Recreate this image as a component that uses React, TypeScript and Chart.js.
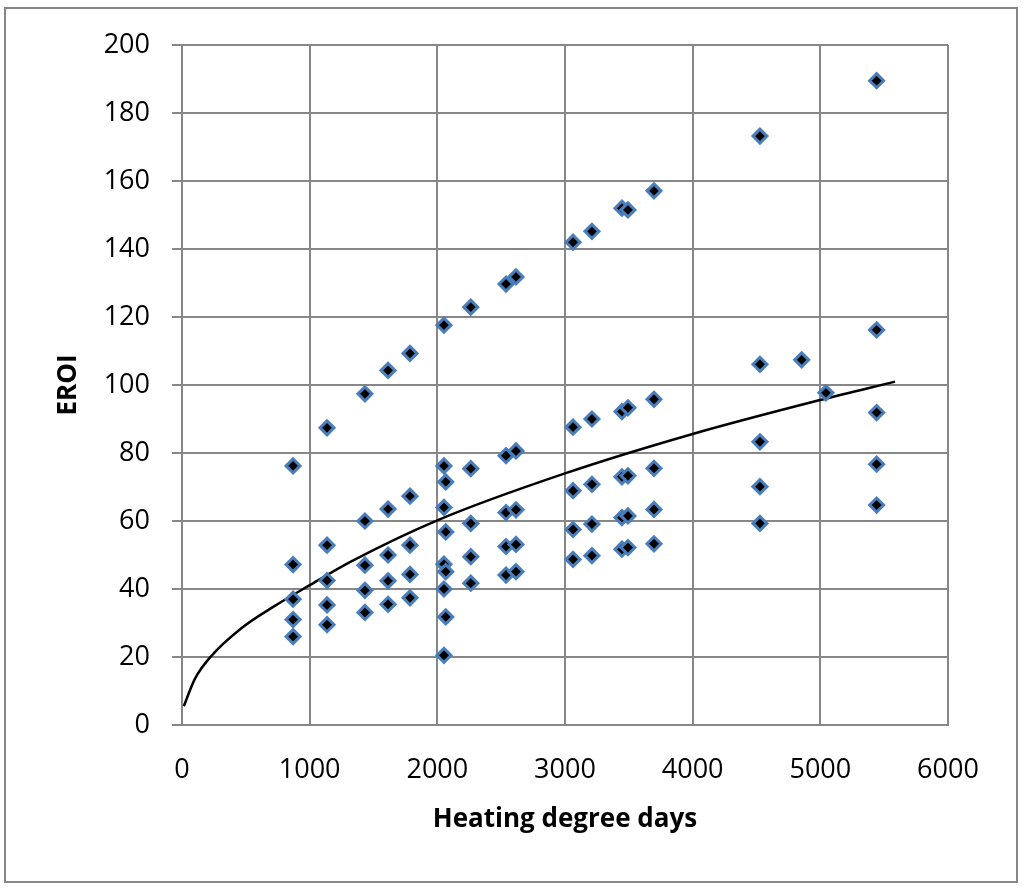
import { useEffect, useRef } from 'react';
import Chart from 'chart.js/auto';

// heating degree days (x) and EROI (y)
const hdd = [
  870, 870, 870, 870, 870,
  1136, 1136, 1136, 1136, 1136,
  1433, 1433, 1433, 1433, 1433,
  1614, 1614, 1614, 1614, 1614,
  1786, 1786, 1786, 1786, 1786,
  2052, 2052, 2066, 2052, 2066, 2052, 2066, 2052, 2066, 2052,
  2262, 2262, 2262, 2262, 2262,
  2538, 2538, 2538, 2538, 2538,
  2616, 2616, 2616, 2616, 2616,
  3063, 3063, 3063, 3063, 3063,
  3211, 3211, 3211, 3211, 3211,
  3446, 3446, 3446, 3446, 3446,
  3493, 3493, 3493, 3493, 3493,
  3697, 3697, 3697, 3697, 3697,
  4527, 4527, 4527, 4527, 4527,
  4854,
  5044,
  5441, 5441, 5441, 5441, 5441,
];
const eroi = [
  76.2, 47.2, 37, 31, 26,
  87.4, 52.9, 42.5, 35.3, 29.5,
  97.4, 60, 47, 39.6, 33.1,
  104.3, 63.5, 50, 42.4, 35.5,
  109.3, 67.3, 52.9, 44.3, 37.4,
  117.6, 76.2, 71.5, 64, 56.8, 47.3, 45.1, 40, 31.8, 20.5,
  122.9, 75.4, 59.3, 49.5, 41.7,
  129.7, 79.2, 62.5, 52.5, 44.1,
  131.8, 80.6, 63.3, 53.1, 45.1,
  142, 87.6, 68.9, 57.5, 48.7,
  145.2, 90, 70.8, 59.1, 49.8,
  152, 92.2, 73, 61, 51.7,
  151.5, 93.3, 73.3, 61.5, 52.2,
  157.1, 95.8, 75.5, 63.4, 53.3,
  173.2, 106.1, 83.3, 70.1, 59.3,
  107.4,
  97.7,
  189.5, 116.2, 91.9, 76.7, 64.7,
];

// trend curve, points
const trendHdd = [14, 100, 230, 470, 730, 990, 1330, 2000, 3000, 4000, 5000, 5585];
const trendEroi = [5.5, 13.5, 20.3, 28.6, 35.1, 40.9, 48.2, 60.2, 74, 85.6, 95.6, 101];

const xTicks = [0, 1000, 2000, 3000, 4000, 5000, 6000];
const yTicks = [0, 20, 40, 60, 80, 100, 120, 140, 160, 180, 200];

const GRID = '#878787';
const FONT = "'Open Sans', sans-serif";

export default function App() {
  const canvasRef = useRef<HTMLCanvasElement>(null);
  const chartRef = useRef<Chart | null>(null);

  useEffect(() => {
    if (!canvasRef.current) return;
    const ctx = canvasRef.current.getContext('2d');
    if (!ctx) return;
    if (chartRef.current) chartRef.current.destroy();

    chartRef.current = new Chart(ctx, {
      type: 'scatter',
      data: {
        datasets: [
          {
            label: 'EROI',
            data: hdd.map((x, i) => ({ x, y: eroi[i] })),
            pointStyle: 'rectRot',
            pointRadius: 7,
            pointBorderWidth: 3,
            pointBackgroundColor: '#000000',
            pointBorderColor: '#4A7EBB',
            showLine: false,
            order: 1,
          },
          {
            label: 'Trend',
            data: trendHdd.map((x, i) => ({ x, y: trendEroi[i] })),
            showLine: true,
            borderColor: '#000000',
            borderWidth: 2.5,
            pointRadius: 0,
            cubicInterpolationMode: 'monotone',
            order: 2,
          },
        ],
      },
      options: {
        responsive: true,
        maintainAspectRatio: false,
        animation: false,
        layout: { padding: { left: 0, right: 76, top: 45, bottom: 0 } },
        plugins: {
          legend: { display: false },
          tooltip: { enabled: false },
        },
        scales: {
          x: {
            type: 'linear',
            min: 0,
            max: 6000,
            afterBuildTicks: (scale) => {
              scale.ticks = xTicks.map((value) => ({ value }));
            },
            afterFit: (scale) => {
              scale.height = 164;
            },
            grid: { color: GRID, lineWidth: 2, drawTicks: false },
            border: { color: GRID, width: 2 },
            ticks: {
              padding: 29,
              color: '#000',
              font: { family: FONT, size: 27 },
              callback: (value) => String(value),
            },
            title: {
              display: true,
              text: 'Heating degree days',
              color: '#000',
              font: { family: FONT, size: 26, weight: 'bold' },
              padding: { top: 0, bottom: 54 },
            },
          },
          y: {
            type: 'linear',
            min: 0,
            max: 200,
            afterBuildTicks: (scale) => {
              scale.ticks = yTicks.map((value) => ({ value }));
            },
            afterFit: (scale) => {
              scale.width = 182;
            },
            grid: { color: GRID, lineWidth: 2, tickLength: 10 },
            border: { color: GRID, width: 2 },
            ticks: {
              padding: 22,
              color: '#000',
              font: { family: FONT, size: 27 },
              callback: (value) => String(value),
            },
            title: {
              display: true,
              text: 'EROI',
              color: '#000',
              font: { family: FONT, size: 26, weight: 'bold' },
              padding: { top: 53, bottom: 0 },
            },
          },
        },
      },
    });

    return () => {
      if (chartRef.current) {
        chartRef.current.destroy();
        chartRef.current = null;
      }
    };
  }, []);

  return (
    <div style={{ position: 'absolute', left: 0, top: 0, width: 1024, height: 889, background: '#fff' }}>
      <div
        style={{
          position: 'absolute',
          left: 4,
          top: 7,
          width: 1014,
          height: 876,
          boxSizing: 'border-box',
          border: `2px solid ${GRID}`,
        }}
      />
      <div style={{ position: 'absolute', left: 0, top: 0, width: 1024, height: 889 }}>
        <canvas ref={canvasRef}></canvas>
      </div>
    </div>
  );
}
